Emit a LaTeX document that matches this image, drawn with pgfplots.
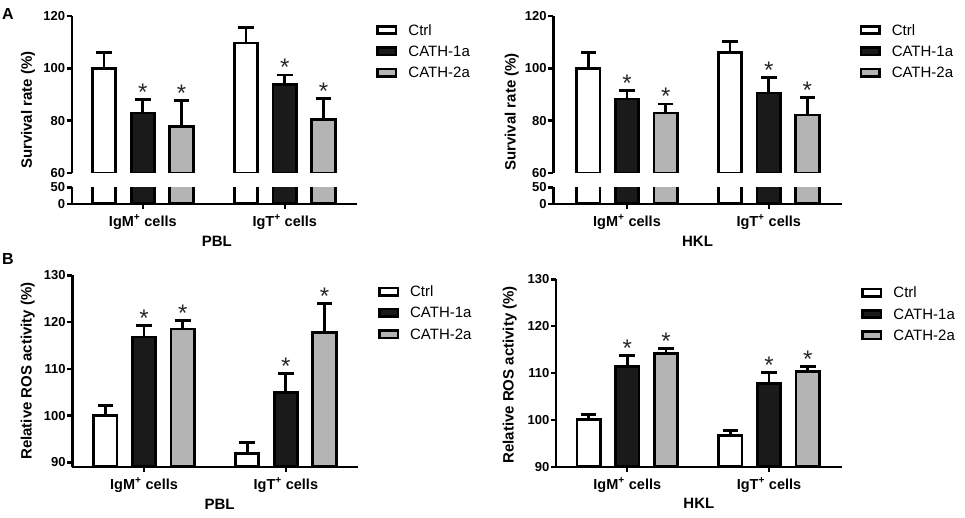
\documentclass[border=0pt]{standalone}
\usepackage{fontspec}
\setmainfont{Liberation Sans}
\usepackage{pgfplots}
\pgfplotsset{compat=1.18}
\definecolor{barblack}{RGB}{26,26,26}
\definecolor{bargray}{RGB}{180,180,180}
\newcommand{\fs}[1]{\fontsize{#1}{#1}\selectfont}
\pgfplotsset{
  legbox/.style={legend image code/.code={%
      \draw[##1, line width=2.6pt] (0pt,-2.7pt) rectangle (18.6pt,4.7pt);
      \path (0pt,0pt) (29.5pt,0pt);}},
  common/.style={
    scale only axis,
    axis line style={line width=2.4pt, -},
    tick style={line width=2.4pt, black},
    major tick length=5pt,
    tick align=outside,
    /pgf/number format/assume math mode=true,
    ticklabel style={font=\bfseries\fs{13}, inner sep=1.5pt},
  },
  leg/.style={
    legend cell align=left,
    legend style={draw=none, fill=none, inner sep=0pt, outer sep=0pt,
      font=\fs{15}, row sep=7.35pt, column sep=0pt,
      nodes={inner sep=0pt, text height=11pt, text depth=3pt},
      at={(1,1)}, anchor=north west},
  },
  bars/.style={ybar, bar width=0.165, bar shift=0pt, draw=black, line width=2.8pt, legbox},
  ctrl/.style={bars, fill=white},
  ca/.style={bars, fill=barblack},
  cb/.style={bars, fill=bargray},
  errs/.style={error bars/.cd, y dir=plus, y explicit, error mark=|,
    error bar style={line width=2.8pt, black},
    error mark options={line width=2.7pt, mark size=7.8pt, black}},
  stars/.style={draw=none, mark=none, forget plot, point meta=y,
    nodes near coords={*},
    every node near coord/.append style={font=\fs{24}, text=black!85, anchor=center, inner sep=0pt, yshift=7.3pt}},
  xcats/.style={xtick={0,1},
    xticklabels={IgM\textsuperscript{+} cells, IgT\textsuperscript{+} cells},
    xticklabel style={font=\bfseries\fs{14.5}, anchor=base, yshift=-17.4pt}},
}
\begin{document}
\begin{tikzpicture}
\useasboundingbox (0,0) rectangle (965pt,517pt);
\node[anchor=base west, font=\bfseries\fs{16}, inner sep=0pt] at (2pt,497.7pt) {A};
\node[anchor=base west, font=\bfseries\fs{16}, inner sep=0pt] at (2pt,252pt) {B};

% ---------- A left, upper ----------
\begin{axis}[common, leg, at={(71.7pt,344pt)}, anchor=south west,
  width=285pt, height=157pt, xmin=-0.501, xmax=1.507, ymin=60, ymax=120,
  ytick={60,80,100,120}, axis y line*=left, axis x line=none, xtick=\empty,
  ylabel={Survival rate (\%)},
  ylabel style={font=\bfseries\fs{15}, rotate=0, at={(axis description cs:-0.153,0.40)}, anchor=center},
  legend style={xshift=19.45pt, yshift=-8pt}]
\addplot[ctrl, errs] coordinates {(-0.273,100) +- (0,6.0) (0.727,109.7) +- (0,5.8)};
\addplot[ca, errs] coordinates {(0,82.9) +- (0,5.1) (1,93.8) +- (0,3.7)};
\addplot[cb, errs] coordinates {(0.273,77.7) +- (0,9.9) (1.273,80.4) +- (0,8.1)};
\addplot[stars] coordinates {(0,88.0) (1,97.5) (0.273,87.6) (1.273,88.5)};
\legend{Ctrl, CATH-1a, CATH-2a}
\end{axis}
% ---------- A left, lower ----------
\begin{axis}[common, xcats, at={(71.7pt,313.3pt)}, anchor=south west,
  width=285pt, height=16.4pt, xmin=-0.501, xmax=1.507, ymin=0, ymax=50,
  ytick={0,50}, axis x line*=bottom, axis y line*=left,
  xlabel={PBL}, xlabel style={font=\bfseries\fs{15}, at={(axis description cs:0.509,0)}, anchor=base, yshift=-42.3pt}]
\addplot[ctrl] coordinates {(-0.273,100) (0.727,109.7)};
\addplot[ca] coordinates {(0,82.9) (1,93.8)};
\addplot[cb] coordinates {(0.273,77.7) (1.273,80.4)};
\end{axis}

% ---------- A right, upper ----------
\begin{axis}[common, leg, at={(553.3pt,344pt)}, anchor=south west,
  width=288.4pt, height=157pt, xmin=-0.52, xmax=1.515, ymin=60, ymax=120,
  ytick={60,80,100,120}, axis y line*=left, axis x line=none, xtick=\empty,
  ylabel={Survival rate (\%)},
  ylabel style={font=\bfseries\fs{15}, rotate=0, at={(axis description cs:-0.144,0.39)}, anchor=center},
  legend style={xshift=17.75pt, yshift=-8pt}]
\addplot[ctrl, errs] coordinates {(-0.273,100) +- (0,6.1) (0.727,106.1) +- (0,4.2)};
\addplot[ca, errs] coordinates {(0,88.3) +- (0,3.2) (1,90.6) +- (0,5.8)};
\addplot[cb, errs] coordinates {(0.273,82.9) +- (0,3.5) (1.273,82.2) +- (0,6.6)};
\addplot[stars] coordinates {(0,91.5) (1,96.4) (0.273,86.4) (1.273,88.8)};
\legend{Ctrl, CATH-1a, CATH-2a}
\end{axis}
% ---------- A right, lower ----------
\begin{axis}[common, xcats, at={(553.3pt,313.3pt)}, anchor=south west,
  width=288.4pt, height=16.4pt, xmin=-0.52, xmax=1.515, ymin=0, ymax=50,
  ytick={0,50}, axis x line*=bottom, axis y line*=left,
  xlabel={HKL}, xlabel style={font=\bfseries\fs{15}, at={(axis description cs:0.5,0)}, anchor=base, yshift=-42.8pt}]
\addplot[ctrl] coordinates {(-0.273,100) (0.727,106.1)};
\addplot[ca] coordinates {(0,88.3) (1,90.6)};
\addplot[cb] coordinates {(0.273,82.9) (1.273,82.2)};
\end{axis}

% ---------- B left ----------
\begin{axis}[common, leg, xcats, at={(72.3pt,50.3pt)}, anchor=south west,
  width=286pt, height=191.4pt, xmin=-0.506, xmax=1.511, ymin=89.06, ymax=130,
  ytick={90,100,110,120,130}, axis x line*=bottom, axis y line*=left,
  ylabel={Relative ROS activity (\%)},
  ylabel style={font=\bfseries\fs{15}, rotate=0, at={(axis description cs:-0.156,0.5)}, anchor=center},
  xlabel={PBL}, xlabel style={font=\bfseries\fs{15}, at={(axis description cs:0.515,0)}, anchor=base, yshift=-42.8pt},
  legend style={xshift=19.55pt, yshift=-10.2pt}]
\addplot[ctrl, errs] coordinates {(-0.273,100) +- (0,2.1) (0.727,91.9) +- (0,2.4)};
\addplot[ca, errs] coordinates {(0,116.8) +- (0,2.5) (1,105.0) +- (0,4.0)};
\addplot[cb, errs] coordinates {(0.273,118.5) +- (0,1.8) (1.273,117.8) +- (0,6.2)};
\addplot[stars] coordinates {(0,119.3) (1,109.0) (0.273,120.3) (1.273,124.0)};
\legend{Ctrl, CATH-1a, CATH-2a}
\end{axis}

% ---------- B right ----------
\begin{axis}[common, leg, xcats, at={(556pt,50.3pt)}, anchor=south west,
  width=285.7pt, height=187.4pt, xmin=-0.503, xmax=1.513, ymin=90, ymax=130,
  ytick={90,100,110,120,130}, axis x line*=bottom, axis y line*=left,
  ylabel={Relative ROS activity (\%)},
  ylabel style={font=\bfseries\fs{15}, rotate=0, at={(axis description cs:-0.162,0.49)}, anchor=center},
  xlabel={HKL}, xlabel style={font=\bfseries\fs{15}, at={(axis description cs:0.5,0)}, anchor=base, yshift=-42.1pt},
  legend style={xshift=19.45pt, yshift=-7.4pt}]
\addplot[ctrl, errs] coordinates {(-0.273,100) +- (0,1.1) (0.727,96.7) +- (0,1.1)};
\addplot[ca, errs] coordinates {(0,111.4) +- (0,2.4) (1,107.7) +- (0,2.4)};
\addplot[cb, errs] coordinates {(0.273,114.2) +- (0,1.0) (1.273,110.4) +- (0,1.0)};
\addplot[stars] coordinates {(0,113.8) (1,110.1) (0.273,115.2) (1.273,111.4)};
\legend{Ctrl, CATH-1a, CATH-2a}
\end{axis}
\end{tikzpicture}
\end{document}
